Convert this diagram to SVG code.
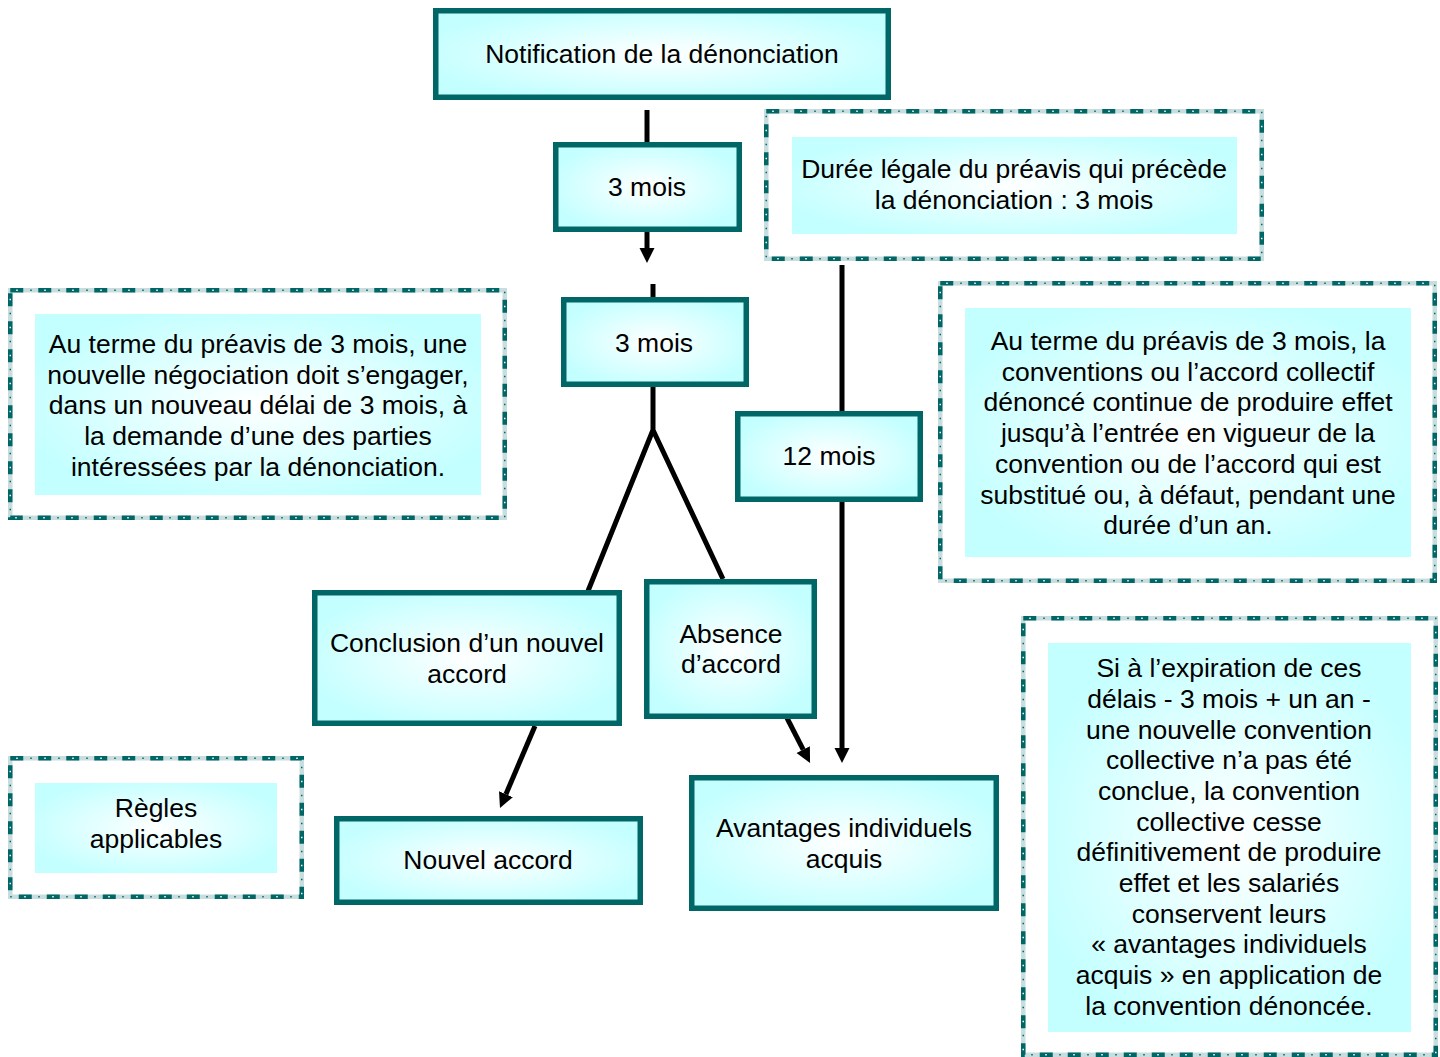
<svg xmlns="http://www.w3.org/2000/svg" width="1440" height="1057" viewBox="0 0 1440 1057">
<defs>
<radialGradient id="g" cx="50%" cy="50%" r="55%">
<stop offset="0%" stop-color="#ffffff"/>
<stop offset="100%" stop-color="#c4ffff"/>
</radialGradient>
<marker id="ah" markerUnits="userSpaceOnUse" markerWidth="16" markerHeight="16" viewBox="0 0 16 16" refX="0" refY="8" orient="auto">
<path d="M0,0.5 L15,8 L0,15.5 z" fill="#000"/>
</marker>
</defs>
<style>
.box{fill:url(#g);stroke:#006666;stroke-width:5.5}
.fill{fill:url(#g)}
.db1{fill:#fff;stroke:#c8dede;stroke-width:4.5}
.db2{fill:none;stroke:#006666;stroke-width:4.5;stroke-dasharray:13 15}
.db3{fill:none;stroke:#ffffff;stroke-width:1.5;stroke-dasharray:1.5 26.5;stroke-dashoffset:-6}
.db4{fill:none;stroke:#006666;stroke-width:1.5;stroke-dasharray:1.5 26.5;stroke-dashoffset:-20}
text{font-family:"Liberation Sans",Arial,sans-serif;font-size:26.5px;fill:#000;text-anchor:middle}
.ln{fill:none;stroke:#000;stroke-width:5}
</style>
<rect width="1440" height="1057" fill="#fff"/>

<g id="connectors">
<path class="ln" d="M647,110 V142"/>
<path class="ln" d="M647,232 V248" marker-end="url(#ah)"/>
<path class="ln" d="M653,284 V297"/>
<path class="ln" d="M653,386 V430 L588,591 M653,430 L723,579"/>
<path class="ln" d="M842,265 V411"/>
<path class="ln" d="M842,502 V748" marker-end="url(#ah)"/>
<path class="ln" d="M535,726 L505.9,794.2" marker-end="url(#ah)"/>
<path class="ln" d="M787,718 L803.2,749.6" marker-end="url(#ah)"/>
</g>

<g id="notification">
<rect class="box" x="435.75" y="10.75" width="452.5" height="86.5"/>
<text x="662" y="63">Notification de la dénonciation</text>
</g>

<g id="trois-mois-1">
<rect class="box" x="555.75" y="144.75" width="183.5" height="84.5"/>
<text x="647" y="196">3 mois</text>
</g>

<g id="trois-mois-2">
<rect class="box" x="563.75" y="299.75" width="182.5" height="84.5"/>
<text x="654" y="352">3 mois</text>
</g>

<g id="douze-mois">
<rect class="box" x="737.75" y="413.75" width="182.5" height="85.5"/>
<text x="829" y="465">12 mois</text>
</g>

<g id="conclusion">
<rect class="box" x="314.75" y="592.75" width="304.5" height="130.5"/>
<text x="467" y="652">Conclusion d’un nouvel</text>
<text x="467" y="683">accord</text>
</g>

<g id="absence">
<rect class="box" x="646.75" y="581.75" width="167.5" height="134.5"/>
<text x="731" y="643">Absence</text>
<text x="731" y="673">d’accord</text>
</g>

<g id="nouvel-accord">
<rect class="box" x="336.75" y="818.75" width="303.5" height="83.5"/>
<text x="488" y="869">Nouvel accord</text>
</g>

<g id="avantages">
<rect class="box" x="691.75" y="777.75" width="304.5" height="130.5"/>
<text x="844" y="837">Avantages individuels</text>
<text x="844" y="868">acquis</text>
</g>

<g id="duree-legale">
<rect class="db1" x="766.25" y="111.25" width="495.5" height="147.5"/>
<rect class="db2" x="766.25" y="111.25" width="495.5" height="147.5"/>
<rect class="db3" x="766.25" y="111.25" width="495.5" height="147.5"/>
<rect class="db4" x="766.25" y="111.25" width="495.5" height="147.5"/>
<rect class="fill" x="792" y="137" width="445" height="97"/>
<text x="1014" y="178">Durée légale du préavis qui précède</text>
<text x="1014" y="209">la dénonciation : 3 mois</text>
</g>

<g id="note-negociation">
<rect class="db1" x="10.25" y="290.25" width="494.5" height="227.5"/>
<rect class="db2" x="10.25" y="290.25" width="494.5" height="227.5"/>
<rect class="db3" x="10.25" y="290.25" width="494.5" height="227.5"/>
<rect class="db4" x="10.25" y="290.25" width="494.5" height="227.5"/>
<rect class="fill" x="35" y="314" width="446" height="181"/>
<text x="258" y="353">Au terme du préavis de 3 mois, une</text>
<text x="258" y="384">nouvelle négociation doit s’engager,</text>
<text x="258" y="414">dans un nouveau délai de 3 mois, à</text>
<text x="258" y="445">la demande d’une des parties</text>
<text x="258" y="476">intéressées par la dénonciation.</text>
</g>

<g id="note-effet">
<rect class="db1" x="940.25" y="283.25" width="494.5" height="297.5"/>
<rect class="db2" x="940.25" y="283.25" width="494.5" height="297.5"/>
<rect class="db3" x="940.25" y="283.25" width="494.5" height="297.5"/>
<rect class="db4" x="940.25" y="283.25" width="494.5" height="297.5"/>
<rect class="fill" x="965" y="308" width="446" height="249"/>
<text x="1188" y="350">Au terme du préavis de 3 mois, la</text>
<text x="1188" y="381">conventions ou l’accord collectif</text>
<text x="1188" y="411">dénoncé continue de produire effet</text>
<text x="1188" y="442">jusqu’à l’entrée en vigueur de la</text>
<text x="1188" y="473">convention ou de l’accord qui est</text>
<text x="1188" y="504">substitué ou, à défaut, pendant une</text>
<text x="1188" y="534">durée d’un an.</text>
</g>

<g id="note-expiration">
<rect class="db1" x="1023.25" y="618.25" width="412.5" height="436.5"/>
<rect class="db2" x="1023.25" y="618.25" width="412.5" height="436.5"/>
<rect class="db3" x="1023.25" y="618.25" width="412.5" height="436.5"/>
<rect class="db4" x="1023.25" y="618.25" width="412.5" height="436.5"/>
<rect class="fill" x="1048" y="643" width="363" height="389"/>
<text x="1229" y="677">Si à l’expiration de ces</text>
<text x="1229" y="708">délais - 3 mois + un an -</text>
<text x="1229" y="739">une nouvelle convention</text>
<text x="1229" y="769">collective n’a pas été</text>
<text x="1229" y="800">conclue, la convention</text>
<text x="1229" y="831">collective cesse</text>
<text x="1229" y="861">définitivement de produire</text>
<text x="1229" y="892">effet et les salariés</text>
<text x="1229" y="923">conservent leurs</text>
<text x="1229" y="953">« avantages individuels</text>
<text x="1229" y="984">acquis » en application de</text>
<text x="1229" y="1015">la convention dénoncée.</text>
</g>

<g id="regles">
<rect class="db1" x="10.25" y="758.25" width="291.5" height="138.5"/>
<rect class="db2" x="10.25" y="758.25" width="291.5" height="138.5"/>
<rect class="db3" x="10.25" y="758.25" width="291.5" height="138.5"/>
<rect class="db4" x="10.25" y="758.25" width="291.5" height="138.5"/>
<rect class="fill" x="35" y="783" width="242" height="90"/>
<text x="156" y="817">Règles</text>
<text x="156" y="848">applicables</text>
</g>
</svg>
